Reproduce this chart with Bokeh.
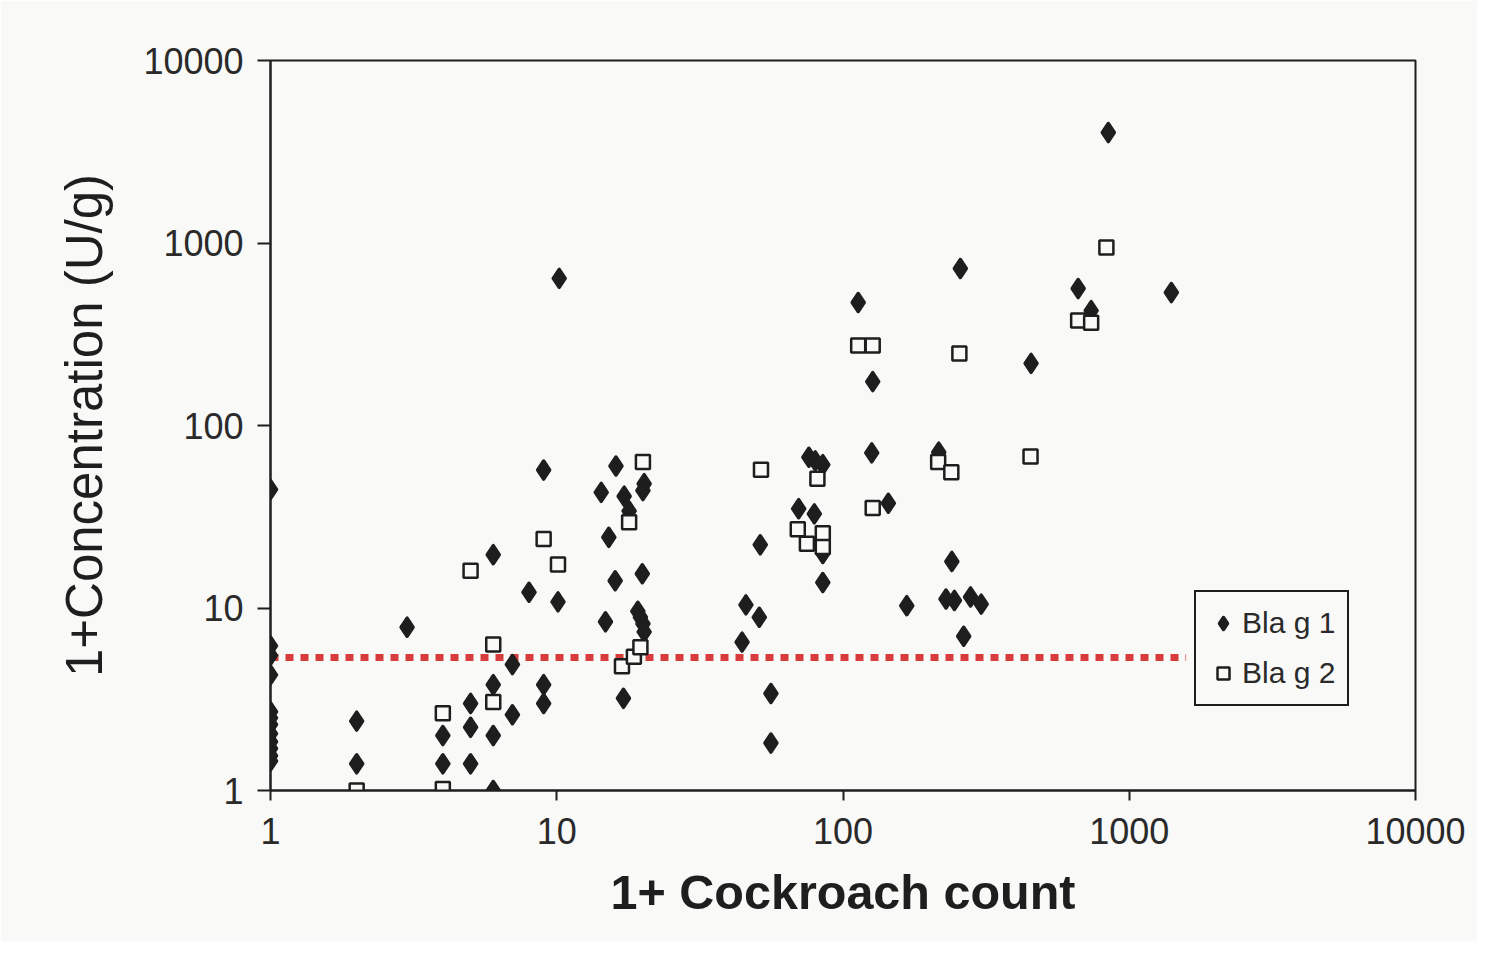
from bokeh.plotting import figure
from bokeh.models import FixedTicker, Legend, LegendItem
from bokeh.embed import file_html
from bokeh.resources import INLINE

# ---- data ----
blag1_x = [1, 1, 1, 1, 1, 1, 1, 1, 1, 1, 1, 1,
           2, 2, 3, 4, 4, 5, 5, 5, 6, 6, 6, 6, 7, 7, 8, 9, 9, 9,
           10.1, 10.2, 14.3, 15.2, 14.8, 16.1, 16.0, 17.2, 17.9, 17.1,
           20.2, 20.0, 19.9, 19.2, 19.6, 20.0, 20.2,
           44.4, 45.8, 51, 51.4, 56, 56, 76, 80, 85, 70, 79.4, 85, 85,
           113, 127, 126, 144, 167, 216, 229, 245, 279, 304, 240, 264, 257,
           454, 663, 736, 845, 1403]
blag1_y = [44.6, 6.2, 5.5, 4.3, 2.7, 2.5, 2.3, 2.05, 1.85, 1.7, 1.55, 1.45,
           2.4, 1.4, 7.85, 2.0, 1.4, 3.0, 2.22, 1.4, 19.6, 3.8, 2.0, 1.0, 4.9, 2.6, 12.2, 57, 3.8, 3.0,
           10.8, 640, 43, 24.4, 8.4, 60, 14.1, 41, 34, 3.2,
           48, 44, 15.4, 9.6, 8.9, 8.2, 7.4,
           6.5, 10.4, 8.9, 22.2, 3.4, 1.82, 67, 64, 61, 35, 32.8, 19.9, 13.8,
           472, 174, 70.8, 37.5, 10.3, 71.4, 11.2, 11.0, 11.5, 10.5, 18, 7.0, 725,
           219, 563, 426, 4030, 535]

blag2_x = [2, 4, 4, 5, 6, 6, 9, 10.1, 16.9, 18.6, 19.6, 17.9, 20,
           51.7, 69.5, 74.8, 81.4, 85, 85, 113, 127, 127, 215, 239, 255,
           452, 663, 736, 832]
blag2_y = [1.0, 2.65, 1.02, 16, 6.3, 3.05, 23.9, 17.3, 4.8, 5.4, 6.1, 29.5, 63,
           57.2, 27, 22.5, 51, 25.7, 21.6, 274, 274, 35.3, 63, 55.5, 248,
           67.6, 376, 366, 945]

threshold_x = [1, 1580]
threshold_y = [5.35, 5.35]

tick_values = [1, 10, 100, 1000, 10000]
tick_labels = ["1", "10", "100", "1000", "10000"]

series_names = ["Bla g 1", "Bla g 2"]
x_title = "1+ Cockroach count"
y_title = "1+Concentration (U/g)"

BG = "#f9f9f7"
INK = "#1e1e1e"
FONT = "Liberation Sans"

p = figure(width=1477, height=941, x_axis_type="log", y_axis_type="log",
           x_range=(1, 10000), y_range=(1, 10000),
           output_backend="svg", toolbar_location=None,
           min_border_left=270, min_border_right=62,
           min_border_top=60, min_border_bottom=151,
           background_fill_color=BG, border_fill_color=BG)

p.grid.visible = False
p.outline_line_color = INK
p.outline_line_width = 2

for ax in (p.xaxis[0], p.yaxis[0]):
    ax.ticker = FixedTicker(ticks=tick_values, minor_ticks=[])
    ax.major_label_overrides = {v: s for v, s in zip(tick_values, tick_labels)}
    ax.axis_line_color = INK
    ax.axis_line_width = 2
    ax.major_tick_line_color = INK
    ax.major_tick_line_width = 2
    ax.major_tick_in = 0
    ax.minor_tick_line_color = None
    ax.major_label_text_font = FONT
    ax.major_label_text_font_size = "36px"
    ax.major_label_text_color = "#2a2a2a"
    ax.axis_label_text_font = FONT
    ax.axis_label_text_color = INK

p.yaxis.major_tick_out = 13
p.yaxis.major_label_standoff = 14
p.xaxis.major_tick_out = 10
p.xaxis.major_label_standoff = 17

p.xaxis.axis_label = x_title
p.xaxis.axis_label_text_font_size = "48.5px"
p.xaxis.axis_label_text_font_style = "bold"
p.xaxis.axis_label_standoff = 18

p.yaxis.axis_label = y_title
p.yaxis.axis_label_text_font_size = "51px"
p.yaxis.axis_label_text_font_style = "normal"
p.yaxis.axis_label_standoff = 27

p.line(threshold_x, threshold_y, line_color="#d93c3c", line_width=7,
       line_dash="8 7", line_cap="butt")

# Bla g 1: filled diamonds
r1 = p.scatter(blag1_x, blag1_y, marker="diamond", size=18,
               fill_color=INK, line_color=INK, line_width=3.5, line_join="round")
# Bla g 2: open squares (drawn on top)
r2 = p.scatter(blag2_x, blag2_y, marker="square", size=14,
               fill_color=BG, line_color=INK, line_width=2.5)

legend = Legend(items=[LegendItem(label=series_names[0], renderers=[r1]),
                       LegendItem(label=series_names[1], renderers=[r2])],
                location=(924, 84),
                border_line_color=INK, border_line_width=2, border_line_alpha=1,
                background_fill_color=BG, background_fill_alpha=1,
                label_text_font=FONT, label_text_font_size="30px",
                label_text_color="#2a2a2a",
                glyph_width=30, glyph_height=32, label_height=38,
                label_standoff=4, spacing=12, padding=12, margin=0)
p.add_layout(legend)

open("out.html", "w").write(file_html(p, INLINE))
